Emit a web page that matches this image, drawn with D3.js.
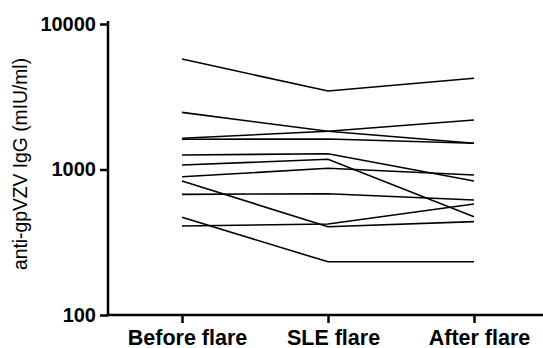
<!DOCTYPE html>
<html>
<head>
<meta charset="utf-8">
<script src="https://cdn.jsdelivr.net/npm/d3@7"></script>
<style>
  html, body { margin: 0; padding: 0; background: #fff; }
  svg { display: block; }
</style>
</head>
<body>
<svg id="chart" width="543" height="348"></svg>
<script>
const categories = ["Before flare", "SLE flare", "After flare"];
const yTicks = [100, 1000, 10000];
const yLabel = "anti-gpVZV IgG (mIU/ml)";
// one array per patient: [Before flare, SLE flare, After flare]
const patient1  = [5745, 3460, 4235];
const patient2  = [2470, 1830, 1514];
const patient3  = [1640, 1830, 2190];
const patient4  = [1613, 1620, 1514];
const patient5  = [1258, 1284, 834];
const patient6  = [1074, 1175, 474];
const patient7  = [892, 1019, 917];
const patient8  = [834, 404, 438];
const patient9  = [675, 682, 617];
const patient10 = [469, 232, 232];
const patient11 = [409, 422, 579];
const patients = [patient1, patient2, patient3, patient4, patient5, patient6,
                  patient7, patient8, patient9, patient10, patient11];

const svg = d3.select("#chart");
const mLeft = 108, mRight = 548, mTop = 24, mBottom = 315;

const x = d3.scalePoint().domain(categories).range([182, 474]);
const y = d3.scaleLog().domain([100, 10000]).range([mBottom, mTop]);

const line = d3.line()
  .x((d, i) => x(categories[i]))
  .y(d => y(d));

svg.append("g")
  .selectAll("path")
  .data(patients)
  .join("path")
  .attr("d", line)
  .attr("fill", "none")
  .attr("stroke", "#000")
  .attr("stroke-width", 1.6);

// Y axis
const yAxis = svg.append("g")
  .attr("transform", `translate(${mLeft},0)`)
  .call(d3.axisLeft(y).tickValues(yTicks).tickFormat(d3.format("d")).tickSize(8).tickPadding(4));
yAxis.select(".domain").attr("d", `M0,${mTop - 3}V${mBottom}`).attr("stroke-width", 2.5);
yAxis.selectAll(".tick line").attr("stroke-width", 2.5);
yAxis.selectAll(".tick text")
  .attr("font-family", "Liberation Sans, Arial, sans-serif")
  .attr("font-weight", "bold")
  .attr("font-size", 20)
  .attr("fill", "#000");

// X axis
const xAxis = svg.append("g")
  .attr("transform", `translate(0,${mBottom})`)
  .call(d3.axisBottom(x).tickSize(8).tickPadding(6));
xAxis.select(".domain").attr("d", `M${mLeft - 1},0H${mRight}`).attr("stroke-width", 2.5);
xAxis.selectAll(".tick line").attr("stroke-width", 2.5);
xAxis.selectAll(".tick text")
  .attr("font-family", "Liberation Sans, Arial, sans-serif")
  .attr("font-weight", "bold")
  .attr("font-size", 21.5)
  .attr("dy", null)
  .attr("y", 29.5)
  .attr("dx", 5)
  .attr("fill", "#000");

svg.append("text")
  .attr("transform", "translate(27,164) rotate(-90)")
  .attr("text-anchor", "middle")
  .attr("font-family", "Liberation Sans, Arial, sans-serif")
  .attr("font-size", 19.3)
  .attr("fill", "#000")
  .text(yLabel);
</script>
</body>
</html>
